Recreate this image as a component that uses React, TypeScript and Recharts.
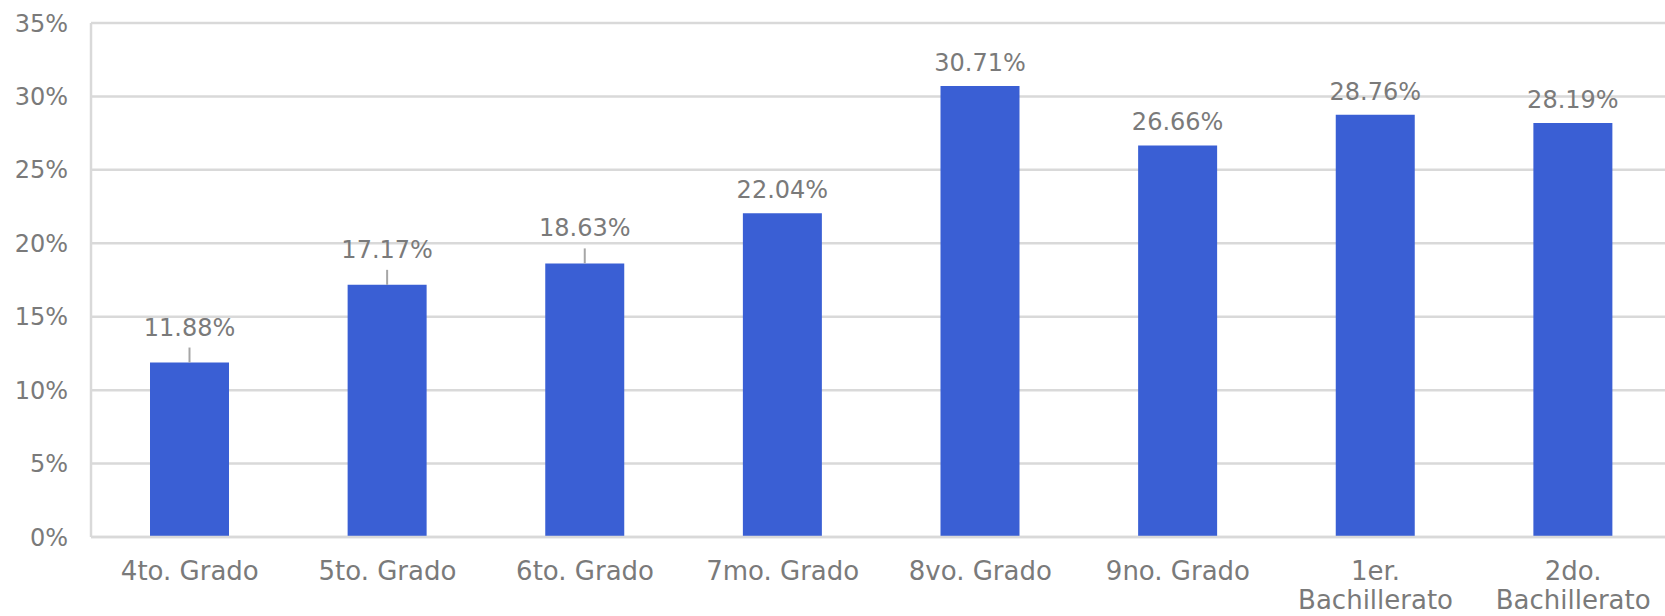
import React from 'react';
import {
  BarChart,
  Bar,
  XAxis,
  YAxis,
  CartesianGrid,
  LabelList
} from 'recharts';

// Grade levels and their share (percent)
const grades = [
  '4to. Grado',
  '5to. Grado',
  '6to. Grado',
  '7mo. Grado',
  '8vo. Grado',
  '9no. Grado',
  '1er. Bachillerato',
  '2do. Bachillerato'
];
const shares = [11.88, 17.17, 18.63, 22.04, 30.71, 26.66, 28.76, 28.19];
const yTicks = [0, 5, 10, 15, 20, 25, 30, 35];

// bars whose labels were pulled up with a leader line
const leaderBars = [0, 1, 2];

const data = grades.map((grade, i) => ({ grade, share: shares[i] }));

const GRAY = '#7a7a7a';
const GRID = '#d9d9d9';
const BLUE = '#3a5fd4';
const FONT = '"DejaVu Sans", Verdana, sans-serif';

// rough wrap: long labels break into one word per line
const wrapLabel = (label: string) =>
  label.length * 14.4 > 190 ? label.split(' ') : [label];

// eslint-disable-next-line @typescript-eslint/no-explicit-any
const GradeTick = (props: any) => {
  const { x, y, payload } = props;
  const lines = wrapLabel(String(payload.value));
  return (
    <text
      x={x}
      y={y + 35}
      textAnchor="middle"
      fill={GRAY}
      fontSize={26}
      fontFamily={FONT}
    >
      {lines.map((line, i) => (
        <tspan key={i} x={x} dy={i === 0 ? 0 : 29}>
          {line}
        </tspan>
      ))}
    </text>
  );
};

// eslint-disable-next-line @typescript-eslint/no-explicit-any
const ShareLabel = (props: any) => {
  const { x, y, width, value, index } = props;
  const cx = x + width / 2;
  const withLeader = leaderBars.includes(index);
  const baseline = withLeader ? y - 27 : y - 15;
  return (
    <g>
      {withLeader && (
        <line x1={cx} x2={cx} y1={y} y2={y - 15} stroke="#a6a6a6" strokeWidth={2} />
      )}
      <text
        x={cx}
        y={baseline}
        textAnchor="middle"
        fill={GRAY}
        fontSize={24}
        fontFamily={FONT}
      >
        {`${Number(value).toFixed(2)}%`}
      </text>
    </g>
  );
};

const App: React.FC = () => {
  return (
    <div
      style={{
        position: 'absolute',
        left: 0,
        top: 0,
        width: 1665,
        height: 616,
        overflow: 'hidden',
        background: '#fff'
      }}
    >
      <BarChart
        width={1672}
        height={616}
        data={data}
        margin={{ top: 23, right: 0, left: 0, bottom: 0 }}
      >
        <CartesianGrid vertical={false} stroke={GRID} strokeWidth={2.5} />
        <XAxis
          dataKey="grade"
          height={79}
          axisLine={{ stroke: GRID, strokeWidth: 2.5 }}
          tickLine={false}
          interval={0}
          tick={<GradeTick />}
        />
        <YAxis
          width={91}
          domain={[0, 35]}
          ticks={yTicks}
          interval={0}
          axisLine={{ stroke: GRID, strokeWidth: 2.5 }}
          tickLine={false}
          tickMargin={17}
          tickFormatter={(v) => `${v}%`}
          tick={{ fill: GRAY, fontSize: 24, fontFamily: FONT }}
        />
        <Bar dataKey="share" fill={BLUE} barSize={79} isAnimationActive={false}>
          <LabelList dataKey="share" content={<ShareLabel />} />
        </Bar>
      </BarChart>
    </div>
  );
};

export default App;
